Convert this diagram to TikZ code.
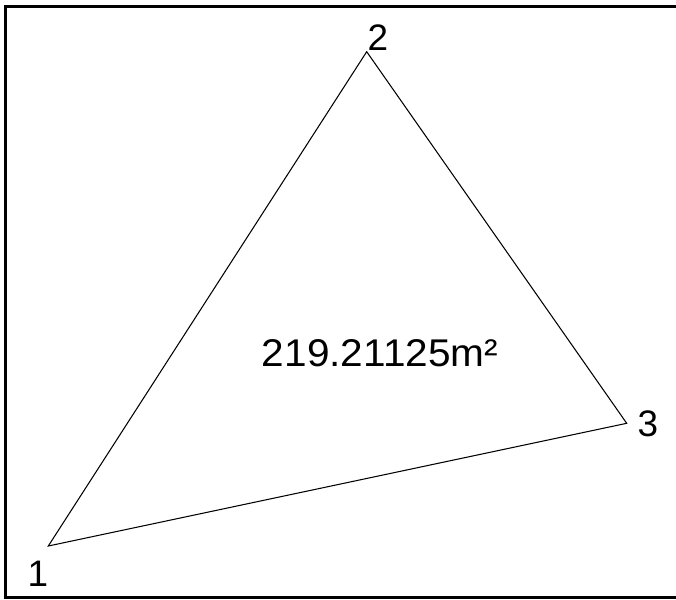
\documentclass[tikz,border=0pt]{standalone}
\usepackage{fontspec}
\setmainfont{Liberation Sans}
\usetikzlibrary{positioning}

\begin{document}
\begin{tikzpicture}[
  x=0.02cm,y=-0.02cm,
  ptlabel/.style={inner sep=0pt,font=\fontsize{21}{21}\selectfont},
  arealabel/.style={inner sep=0pt,font=\fontsize{22}{22}\selectfont,xscale=1.05}
]
\useasboundingbox (0,0) rectangle (676,599);
% frame
\draw[line width=0.06cm] (5.5,6.5) rectangle (690,597.5);

% corner points
\coordinate (p1) at (48.3,546);
\coordinate (p2) at (366.7,51.7);
\coordinate (p3) at (626.7,423.3);
\draw[line width=0.6pt] (p1)--(p2)--(p3)--cycle;

% point numbers
\node[ptlabel] (n1) at (38,574)  {1};
\node[ptlabel] (n2) at (378,38)  {2};
\node[ptlabel] (n3) at (648,423.5) {3};

% area
\node[arealabel] (area) at (380,353) {219.21125m²};
\end{tikzpicture}
\end{document}
